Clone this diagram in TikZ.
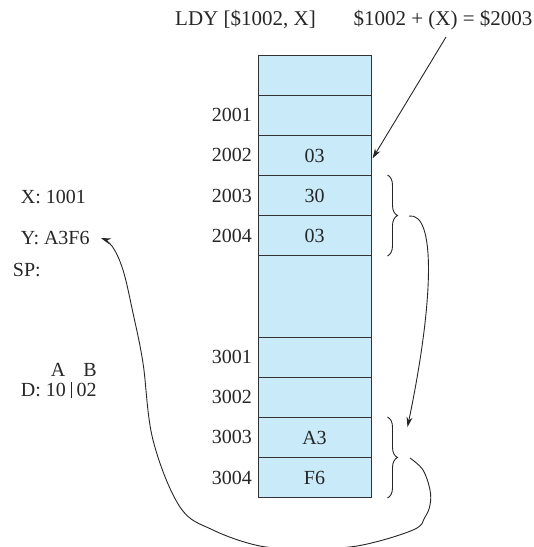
\documentclass[tikz,border=0pt]{standalone}
\usepackage{fontspec}
\setmainfont{Liberation Serif}
\usetikzlibrary{arrows.meta,decorations.pathreplacing}
\definecolor{cellblue}{RGB}{201,234,248}
\definecolor{edgegray}{RGB}{50,50,50}
\begin{document}
\begin{tikzpicture}[x=1pt,y=-1pt,
  every node/.style={font=\fontsize{20}{24}\selectfont, inner sep=0pt, text=black!85},
  cell/.style={draw=edgegray, line width=1pt, fill=cellblue, minimum width=113pt, minimum height=40pt, anchor=north},
  addr/.style={anchor=east},
  lbl/.style={anchor=west},
  toptext/.style={anchor=base, font=\fontsize{21}{25}\selectfont},
  conn/.style={line width=0.9pt, draw=black!85, -{Stealth[length=10pt,width=6pt]}},
  brc/.style={line width=0.9pt, draw=black!85, decorate, decoration={brace, amplitude=10pt}}]
\useasboundingbox (0,0) rectangle (534,547);

% memory column
\node[cell] (c0) at (314.5,55) {};
\node[cell] (c2001) at (314.5,95) {};
\node[cell] (c2002) at (314.5,135) {03};
\node[cell] (c2003) at (314.5,175) {30};
\node[cell] (c2004) at (314.5,215) {03};
\node[cell, minimum height=82pt] (cgap) at (314.5,255) {};
\node[cell] (c3001) at (314.5,337) {};
\node[cell] (c3002) at (314.5,377) {};
\node[cell] (c3003) at (314.5,417) {A3};
\node[cell] (c3004) at (314.5,457) {F6};

% addresses
\node[addr] (a2001) at (252,115) {2001};
\node[addr] (a2002) at (252,155) {2002};
\node[addr] (a2003) at (252,195.5) {2003};
\node[addr] (a2004) at (252,236) {2004};
\node[addr] (a3001) at (252,357) {3001};
\node[addr] (a3002) at (252,397) {3002};
\node[addr] (a3003) at (252,437) {3003};
\node[addr] (a3004) at (252,477.5) {3004};

% registers
\node[lbl] (xlab) at (20.7,196.5) {X: 1001};
\node[lbl] (ylab) at (20.7,238) {Y: A3F6};
\node[lbl] (splab) at (12.7,270) {SP:};
\node (la) at (58,370) {A};
\node (lb) at (90,370) {B};
\node[lbl] (dlab) at (20.7,390) {D: 10\hspace{5pt}\rule[-2pt]{0.8pt}{16pt}\hspace{5pt}02};

% top texts
\node[toptext] (ldy) at (245.5,25) {LDY [\$1002, X]};
\node[toptext] (calc) at (443,25) {\$1002 + (X) = \$2003};

% effective address arrow
\coordinate (ptop) at (446,37);
\draw[conn] (ptop) -- ([yshift=-3pt,xshift=1pt]c2002.east);

% braces
\draw[brc] ([xshift=16pt]c2003.north east) -- ([xshift=16pt]c2004.south east);
\draw[brc] ([xshift=16pt]c3003.north east) -- ([xshift=16pt]c3004.south east);

% pointer arrow
\coordinate (b1) at (409,216);
\draw[conn] (b1) .. controls (436,212) and (434,300) .. ([xshift=36pt,yshift=-10pt]c3003.north east);

% data arrow
\coordinate (b2) at (410,458);
\draw[conn] plot[smooth, tension=0.6] coordinates {(b2) (423,470) (430,490) (430,505) (425,517) (413,530) (357,546) (303,548) (260,546) (213,530) (180,507) (153,440) (143,363) (133,313) (123,270) (112,246) ([xshift=11pt]ylab.east)};
\end{tikzpicture}
\end{document}
